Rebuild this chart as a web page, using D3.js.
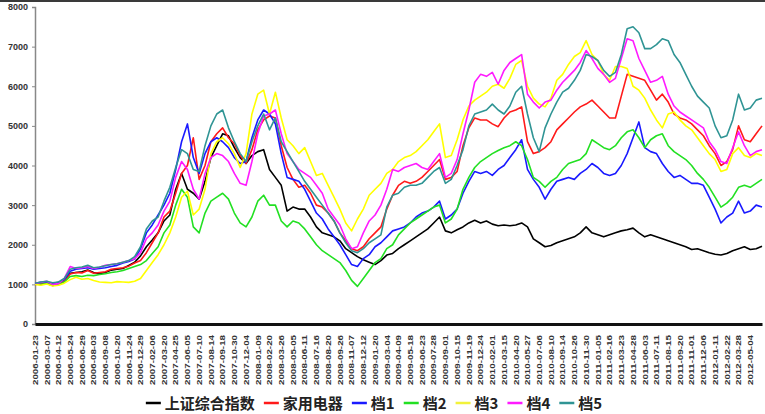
<!DOCTYPE html>
<html>
<head>
<meta charset="utf-8">
<script src="https://cdn.jsdelivr.net/npm/d3@7"></script>
<style>
body { margin: 0; background: #fff; }
svg { display: block; }
.axis text { font-family: "Liberation Sans Narrow", "Liberation Sans", Arial, sans-serif; font-weight: bold; fill: #333; }
.legend text { font-family: "Noto Sans CJK SC", sans-serif; font-weight: bold; font-size: 15px; fill: #222; }
</style>
</head>
<body>
<div id="chart"></div>
<script>
var width = 765, height = 414;

// x tick labels (one every two samples)
var dateLabels = ["2006-01-23","2006-03-07","2006-04-12","2006-05-24","2006-06-29","2006-08-03","2006-09-08","2006-10-20","2006-11-24","2006-12-29",
  "2007-02-06","2007-03-20","2007-04-25","2007-06-05","2007-07-10","2007-08-14","2007-09-18","2007-10-30","2007-12-04",
  "2008-01-09","2008-02-20","2008-03-26","2008-05-05","2008-06-11","2008-07-16","2008-08-20","2008-09-26","2008-11-07","2008-12-12",
  "2009-01-20","2009-03-04","2009-04-09","2009-05-18","2009-06-23","2009-07-28","2009-09-01","2009-10-15","2009-11-19","2009-12-24",
  "2010-02-01","2010-03-15","2010-04-20","2010-05-27","2010-07-06","2010-08-10","2010-09-14","2010-10-26","2010-11-30",
  "2011-01-05","2011-02-16","2011-03-23","2011-04-28","2011-06-03","2011-07-11","2011-08-15","2011-09-20","2011-11-01","2011-12-06",
  "2012-01-11","2012-02-22","2012-03-28","2012-05-04"];

var yTicks = [0, 1000, 2000, 3000, 4000, 5000, 6000, 7000, 8000];

var seriesNames = ["上证综合指数", "家用电器", "档1", "档2", "档3", "档4", "档5"];
var seriesColours = ["#000000", "#ff1a1a", "#1a1aff", "#22e022", "#ffff00", "#ff1aff", "#2f9494"];

var shIndex = [1000,1030,1040,1020,1050,1120,1280,1300,1320,1360,
  1300,1270,1300,1360,1380,1400,1480,1560,1720,1950,
  2120,2300,2600,2750,3400,3800,3400,3300,3150,3600,
  4200,4500,4800,4750,4450,4200,4050,4250,4350,4400,
  3900,3700,3500,2850,2950,2900,2900,2700,2450,2300,
  2250,2200,2100,1900,1800,1700,1620,1560,1500,1600,
  1740,1780,1900,2000,2100,2200,2300,2400,2550,2700,
  2350,2300,2380,2450,2550,2620,2550,2600,2520,2480,
  2500,2480,2500,2550,2450,2150,2050,1950,1980,2050,
  2100,2150,2200,2300,2450,2300,2250,2200,2250,2300,
  2350,2380,2420,2300,2200,2250,2200,2150,2100,2050,
  2000,1950,1880,1900,1850,1800,1760,1740,1780,1850,
  1900,1950,1880,1900,1960];

var appliances = [1000,1010,1020,970,1000,1080,1260,1300,1290,1350,
  1280,1300,1320,1380,1400,1420,1460,1540,1600,1800,
  2050,2300,2700,2850,3300,3800,4000,4700,3650,4000,
  4600,4800,4950,4700,4550,4250,4050,4400,4900,5150,
  5250,5200,4500,3950,3650,3450,3500,3300,3000,2950,
  2800,2600,2300,2100,1900,1850,1950,2150,2300,2450,
  2900,3250,3500,3600,3550,3600,3700,3850,4000,4150,
  3650,3700,3850,4500,4950,5200,5150,5150,5050,4980,
  5200,5350,5400,5480,4600,4300,4350,4450,4600,4900,
  5050,5200,5350,5480,5550,5650,5500,5350,5200,5200,
  5750,6300,6250,6200,6150,5900,5650,5800,5600,5300,
  5200,5150,5050,4900,4750,4500,4300,4000,4100,4400,
  5000,4650,4600,4800,5000];

var tier1 = [1030,1050,1060,1010,1040,1120,1330,1380,1400,1420,
  1380,1400,1420,1450,1480,1540,1580,1640,1900,2300,
  2500,2750,3000,3300,3900,4600,5050,4200,3800,4300,
  4600,4700,4600,4450,4200,4050,4100,4700,5150,5400,
  5300,5050,4300,3700,3650,3600,3400,3100,2800,2650,
  2400,2200,2000,1750,1500,1450,1650,1750,1950,2050,
  2200,2350,2400,2450,2550,2700,2800,2850,2950,3100,
  2650,2750,2900,3300,3600,3850,3800,3850,3750,3900,
  4000,4200,4400,4650,3900,3650,3450,3150,3400,3600,
  3650,3700,3650,3800,3900,4050,3950,3800,3750,3800,
  4000,4300,4700,5100,4450,4350,4300,4050,3850,3700,
  3750,3650,3550,3550,3500,3200,2900,2550,2700,2800,
  3100,2800,2850,3000,2950];

var tier2 = [1010,1000,1020,970,990,1060,1200,1220,1200,1230,
  1220,1250,1270,1300,1320,1350,1400,1450,1500,1600,
  1780,1950,2300,2500,3000,3400,3200,2450,2300,2800,
  3100,3200,3300,3150,2800,2550,2450,2700,3100,3250,
  3000,3000,2600,2450,2600,2550,2400,2200,2000,1850,
  1750,1650,1550,1350,1100,950,1150,1350,1550,1650,
  1900,2000,2250,2400,2550,2650,2750,2850,2950,3000,
  2550,2650,2900,3400,3700,3950,4100,4200,4300,4380,
  4450,4500,4600,4500,4150,3700,3600,3450,3600,3700,
  3900,4050,4100,4150,4300,4650,4550,4450,4400,4500,
  4700,4850,4900,4700,4450,4650,4750,4800,4500,4350,
  4250,4150,4000,3800,3650,3450,3200,2950,3050,3200,
  3450,3500,3450,3550,3650];

var tier3 = [1000,980,1010,960,980,1030,1120,1180,1130,1150,
  1100,1060,1050,1040,1070,1060,1050,1080,1150,1350,
  1550,1750,2000,2300,2700,3200,3350,2750,2900,3400,
  4300,4600,4700,4550,4300,3950,4300,5300,5800,5900,
  5300,5850,5200,4650,4500,4300,4450,4100,3750,3800,
  3500,3200,2900,2550,2350,2650,2900,3250,3400,3550,
  3800,3900,4100,4200,4250,4350,4500,4650,4850,5050,
  4200,4250,4650,5150,5500,5650,5750,5850,6000,6050,
  5950,6200,6550,6650,6000,5700,5550,5480,5700,6150,
  6300,6550,6750,6850,7150,6800,6650,6300,6150,6500,
  6500,6450,6000,5900,5700,5400,5150,4950,5300,5350,
  5150,5000,4900,4700,4500,4300,4150,3850,3900,4300,
  4450,4250,4200,4300,4250];

var tier4 = [1020,1050,1080,1000,1020,1150,1450,1400,1420,1450,
  1400,1430,1480,1500,1520,1560,1600,1650,1800,2150,
  2300,2500,2850,3100,3700,4100,3900,3400,3150,3800,
  4200,4300,4250,4100,3800,3550,3500,4100,4800,5250,
  5300,5400,4800,4300,4100,3900,3800,3700,3500,3300,
  2900,2700,2500,2150,1900,1950,2300,2600,2750,3000,
  3400,3900,3850,3950,4000,4050,3950,3900,4100,4300,
  3700,3800,4150,4800,5400,6100,6300,6250,6350,6050,
  6400,6600,6700,6800,5800,5600,5450,5600,5650,5900,
  6100,6250,6400,6600,6900,6700,6450,6300,6100,6200,
  6700,7200,7150,6700,6400,6100,6150,6250,5800,5500,
  5350,5250,5150,5050,4950,4600,4400,4100,4050,4450,
  4850,4500,4250,4350,4400];

var tier5 = [1030,1060,1080,1040,1060,1150,1380,1420,1440,1480,
  1420,1440,1470,1500,1520,1560,1600,1700,1950,2400,
  2600,2700,3100,3450,3950,4400,4300,3900,3850,4500,
  5000,5300,5400,4950,4600,4300,4100,4600,5000,5300,
  4900,5200,4600,4350,4100,3850,3600,3400,3200,3000,
  2800,2600,2300,2050,1850,1800,1900,2050,2150,2250,
  2950,3250,3300,3450,3500,3500,3550,3700,3850,3950,
  3550,3650,4000,4400,5000,5300,5350,5400,5550,5400,
  5300,5500,5850,6000,5300,4700,4350,4950,5300,5600,
  5850,5950,6150,6400,6800,6750,6650,6400,6250,6350,
  6800,7450,7500,7350,6950,6950,7050,7200,7150,6800,
  6600,6300,6000,5750,5600,5450,5000,4700,4750,5150,
  5800,5400,5450,5650,5700];

var seriesValues = [shIndex, appliances, tier1, tier2, tier3, tier4, tier5];

var svg = d3.select("#chart").append("svg")
  .attr("width", width)
  .attr("height", height);

svg.append("rect").attr("width", width).attr("height", height).attr("fill", "#fff");
// dark border at the very top of the picture
svg.append("rect").attr("x", 0).attr("y", 0).attr("width", width).attr("height", 2).attr("fill", "#3a3a3a");

var x = d3.scaleLinear().domain([0, shIndex.length - 1]).range([35, 762]);
var y = d3.scaleLinear().domain([0, 8000]).range([324, 7]);

// y axis
var yAxis = svg.append("g")
  .attr("class", "axis")
  .attr("transform", "translate(35,0)")
  .call(d3.axisLeft(y).tickValues(yTicks).tickSize(3).tickPadding(4).tickFormat(function(d) { return d; }));
yAxis.select(".domain").attr("stroke", "#888").attr("stroke-width", 1.5);
yAxis.selectAll(".tick line").attr("stroke", "#888");
yAxis.selectAll("text").style("font-size", "9px");

// lines
var line = d3.line()
  .x(function(d, i) { return x(i); })
  .y(function(d) { return y(d); });

svg.append("g").selectAll("path")
  .data(seriesValues)
  .enter()
  .append("path")
  .attr("d", line)
  .attr("fill", "none")
  .attr("stroke", function(d, i) { return seriesColours[i]; })
  .attr("stroke-width", 1.6)
  .attr("stroke-linejoin", "round");

// x axis
var xAxis = svg.append("g")
  .attr("class", "axis")
  .attr("transform", "translate(0,324)")
  .call(d3.axisBottom(x)
    .tickValues(d3.range(0, dateLabels.length * 2, 2))
    .tickSize(0)
    .tickSizeOuter(0)
    .tickFormat(function(d) { return dateLabels[d / 2]; }));
xAxis.select(".domain").attr("stroke", "#111").attr("stroke-width", 3);
xAxis.selectAll("text")
  .attr("x", -11)
  .attr("y", 0)
  .attr("dy", "0.35em")
  .attr("transform", "rotate(-90)")
  .style("text-anchor", "end")
  .style("font-size", "6.5px")
  .attr("textLength", 50)
  .attr("lengthAdjust", "spacingAndGlyphs");

// legend
var legend = svg.append("g").attr("class", "legend");
var lx = 0;
seriesNames.forEach(function(name, i) {
  var item = legend.append("g").attr("transform", "translate(" + lx + ",0)");
  item.append("line")
    .attr("x1", 0).attr("x2", 15)
    .attr("y1", 403).attr("y2", 403)
    .attr("stroke", seriesColours[i] === "#ffff00" ? "#f2f23a" : seriesColours[i])
    .attr("stroke-width", 2.5);
  var t = item.append("text")
    .attr("x", 19)
    .attr("y", 409)
    .text(name);
  lx += 19 + t.node().getComputedTextLength() + 9;
});
legend.attr("transform", "translate(" + (374 - (lx - 9) / 2) + ",0)");
</script>
</body>
</html>
